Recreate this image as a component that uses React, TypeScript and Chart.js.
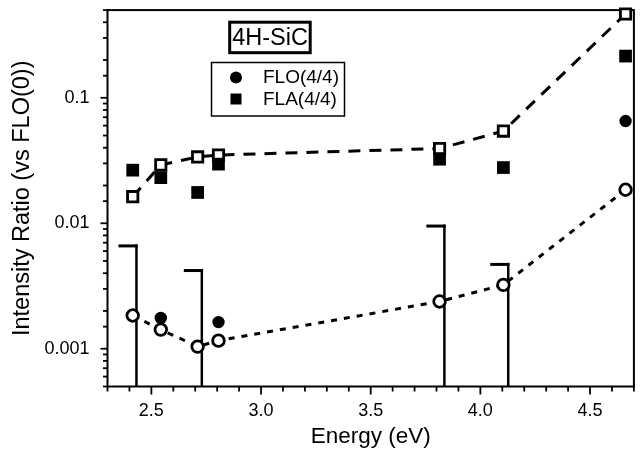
import { useEffect, useRef } from 'react';
import { Chart, registerables } from 'chart.js';

Chart.register(...registerables);

// ---- data ----
const energies = [2.415, 2.543, 2.711, 2.806, 3.814, 4.105, 4.662];
const flaCalc = [0.0163, 0.0292, 0.0338, 0.035, 0.0394, 0.0543, 0.466];
const flaMeas = [0.0265, 0.0231, 0.0176, 0.0296, 0.0324, 0.0278, 0.215];
const floCalc = [0.00184, 0.00142, 0.00104, 0.00116, 0.00238, 0.00323, 0.0185];
const floMeas: (number | null)[] = [null, 0.00176, null, 0.00163, null, null, 0.0653];
const barEnergies = [2.432, 2.73, 3.836, 4.127];
const barTops = [0.0066, 0.0042, 0.0095, 0.0047];
const xTickLabels = ['2.5', '3.0', '3.5', '4.0', '4.5'];
const yTickLabels = ['0.001', '0.01', '0.1'];
const legendLabels = ['FLO(4/4)', 'FLA(4/4)'];
const sampleLabel = '4H-SiC';
const xTitle = 'Energy (eV)';
const yTitle = 'Intensity Ratio (vs FLO(0))';
const xRange = [2.3, 4.7];
const yRange = [0.0005, 0.5];

const FONT = "'Liberation Sans', Arial, Helvetica, sans-serif";

export default function App() {
  const ref = useRef<HTMLCanvasElement>(null);

  useEffect(() => {
    const canvas = ref.current!;
    const toPts = (ys: (number | null)[]) =>
      energies
        .map((x, i) => (ys[i] == null ? null : { x, y: ys[i] as number }))
        .filter((p) => p !== null) as { x: number; y: number }[];

    const zeroPad = (s: any) => {
      s.paddingTop = 0;
      s.paddingBottom = 0;
      s.paddingLeft = 0;
      s.paddingRight = 0;
    };

    const backPlugin = {
      id: 'back',
      beforeDatasetsDraw(chart: any) {
        const { ctx, chartArea: a, scales } = chart;
        const xs = scales.x;
        const ys = scales.y;
        ctx.save();
        ctx.strokeStyle = '#000';
        ctx.lineCap = 'butt';
        // frame
        ctx.lineWidth = 2;
        ctx.strokeRect(a.left, a.top, a.right - a.left, a.bottom - a.top);
        // x ticks
        ctx.lineWidth = 1.8;
        xs.ticks.forEach((t: any) => {
          const v = Math.round(t.value * 10);
          const len = v % 5 === 0 ? 8 : 5;
          const px = xs.getPixelForValue(t.value);
          ctx.beginPath();
          ctx.moveTo(px, a.bottom);
          ctx.lineTo(px, a.bottom + len);
          ctx.stroke();
        });
        // y ticks
        ys.ticks.forEach((t: any) => {
          const major = yTickLabels.some((l) => Math.abs(Number(l) - t.value) < Number(l) * 1e-6);
          const len = major ? 7 : 4.5;
          const py = ys.getPixelForValue(t.value);
          ctx.beginPath();
          ctx.moveTo(a.left - len, py);
          ctx.lineTo(a.left, py);
          ctx.stroke();
        });
        // flags
        barEnergies.forEach((e, i) => {
          const px = xs.getPixelForValue(e);
          const py = ys.getPixelForValue(barTops[i]);
          ctx.lineWidth = 2.5;
          ctx.beginPath();
          ctx.moveTo(px, a.bottom);
          ctx.lineTo(px, py - 1.5);
          ctx.stroke();
          ctx.lineWidth = 3;
          ctx.beginPath();
          ctx.moveTo(px - 18, py);
          ctx.lineTo(px + 1.25, py);
          ctx.stroke();
        });
        ctx.restore();
      },
    };

    const legendPlugin = {
      id: 'legendBoxes',
      afterDraw(chart: any) {
        const { ctx } = chart;
        ctx.save();
        ctx.strokeStyle = '#000';
        ctx.fillStyle = '#000';
        // sample box
        ctx.lineWidth = 3;
        ctx.strokeRect(229.7, 22.2, 80.5, 30.5);
        ctx.font = `23.5px ${FONT}`;
        ctx.textAlign = 'center';
        ctx.textBaseline = 'middle';
        ctx.fillText(sampleLabel, 270, 38.5);
        // legend box
        ctx.lineWidth = 1.5;
        ctx.strokeRect(211.5, 62.5, 133, 53.5);
        ctx.beginPath();
        ctx.arc(236, 77.5, 6, 0, Math.PI * 2);
        ctx.fill();
        ctx.fillRect(230.5, 93.5, 11, 11);
        ctx.font = `19px ${FONT}`;
        ctx.textAlign = 'left';
        ctx.fillText(legendLabels[0], 263, 78);
        ctx.fillText(legendLabels[1], 263, 100);
        ctx.restore();
      },
    };

    const chart = new Chart(canvas, {
      type: 'scatter',
      data: {
        datasets: [
          {
            label: legendLabels[0],
            data: toPts(floMeas),
            pointStyle: 'circle',
            pointRadius: 6.2,
            pointBackgroundColor: '#000',
            pointBorderWidth: 0,
            showLine: false,
            clip: false,
          } as any,
          {
            label: legendLabels[1],
            data: toPts(flaMeas),
            pointStyle: 'rect',
            pointRadius: 9,
            pointBackgroundColor: '#000',
            pointBorderWidth: 0,
            showLine: false,
            clip: false,
          },
          {
            label: 'FLO calc',
            data: toPts(floCalc),
            pointStyle: 'circle',
            pointRadius: 5.8,
            pointBackgroundColor: '#fff',
            pointBorderColor: '#000',
            pointBorderWidth: 2.8,
            showLine: true,
            borderColor: '#000',
            borderWidth: 3,
            borderDash: [6, 7],
            tension: 0,
            clip: false,
          },
          {
            label: 'FLA calc',
            data: toPts(flaCalc),
            pointStyle: 'rect',
            pointRadius: 7.3,
            pointBackgroundColor: '#fff',
            pointBorderColor: '#000',
            pointBorderWidth: 2.8,
            showLine: true,
            borderColor: '#000',
            borderWidth: 3,
            borderDash: [12, 9],
            tension: 0,
            clip: false,
          },
        ],
      },
      options: {
        animation: false,
        responsive: false,
        devicePixelRatio: 1,
        layout: { padding: { left: 0, right: 2, top: 9, bottom: 0 } },
        plugins: { legend: { display: false }, tooltip: { enabled: false } },
        scales: {
          x: {
            type: 'linear',
            min: xRange[0],
            max: xRange[1],
            border: { display: false },
            grid: { display: false, drawTicks: false },
            afterBuildTicks: (s: any) => {
              const t = [];
              for (let k = Math.round(xRange[0] * 10); k <= Math.round(xRange[1] * 10); k++) t.push({ value: k / 10 });
              s.ticks = t;
            },
            afterFit: (s: any) => {
              s.height = 66.5;
              zeroPad(s);
            },
            ticks: {
              autoSkip: false,
              maxRotation: 0,
              padding: 14,
              color: '#000',
              font: { family: FONT, size: 18 },
              callback: (v: any) => xTickLabels.find((l) => Math.abs(Number(l) - v) < 1e-6) ?? '',
            },
            title: {
              display: true,
              text: xTitle,
              color: '#000',
              font: { family: FONT, size: 22.5 },
              padding: { top: 0, bottom: 3 },
            },
          },
          y: {
            type: 'logarithmic',
            min: yRange[0],
            max: yRange[1],
            border: { display: false },
            grid: { display: false, drawTicks: false },
            afterFit: (s: any) => {
              s.width = 107.5;
              zeroPad(s);
            },
            ticks: {
              autoSkip: false,
              padding: 18,
              color: '#000',
              font: { family: FONT, size: 18 },
              callback: (v: any) =>
                yTickLabels.find((l) => Math.abs(Number(l) - v) < Number(l) * 1e-6) ?? '',
            },
            title: {
              display: true,
              text: yTitle,
              color: '#000',
              font: { family: FONT, size: 23.5 },
              padding: { top: 8, bottom: 0 },
            },
          },
        },
      },
      plugins: [backPlugin, legendPlugin],
    } as any);

    return () => chart.destroy();
  }, []);

  return (
    <div style={{ position: 'absolute', left: 0, top: 0, width: 644, height: 453, background: '#fff' }}>
      <canvas ref={ref} width={644} height={453} style={{ width: 644, height: 453, display: 'block' }} />
    </div>
  );
}
